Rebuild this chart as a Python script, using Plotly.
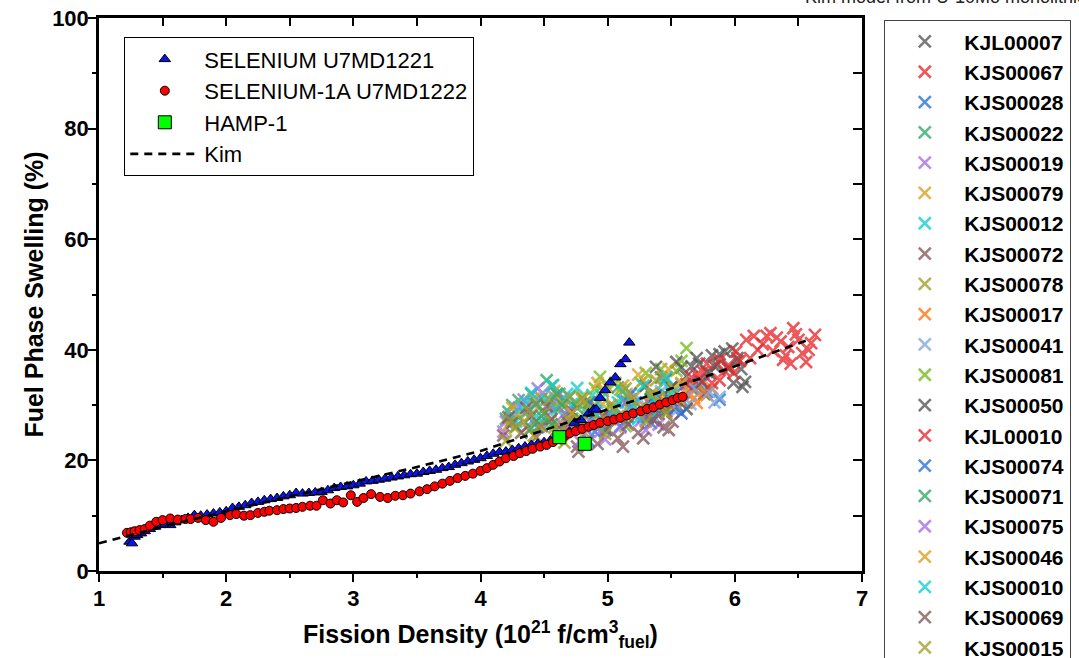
import plotly.graph_objects as go

# ---------------- data ----------------
sel_x = [1.24,1.26,1.28,1.30,1.33,1.36,1.40,1.44,1.48,1.52,1.56,1.60,1.65,1.70,1.75,1.80,1.85,1.90,1.95,2.00,
         2.05,2.10,2.15,2.20,2.25,2.30,2.35,2.40,2.45,2.50,2.55,2.60,2.65,2.70,2.75,2.80,2.85,2.90,2.95,3.00,
         3.05,3.10,3.15,3.20,3.25,3.30,3.35,3.40,3.45,3.50,3.55,3.60,3.65,3.70,3.75,3.80,3.85,3.90,3.95,4.00,
         4.05,4.10,4.15,4.20,4.25,4.30,4.35,4.40,4.45,4.50,4.55,4.60,4.65,4.70,4.74,4.79,4.85,4.89,4.91,4.94,
         4.98,5.02,5.06,5.10,5.14,5.17]
sel_y = [5.3,5.0,6.2,6.5,6.8,7.2,7.6,8.0,8.3,8.4,8.3,8.8,9.2,9.6,10.1,10.0,10.2,10.4,10.6,10.8,
         11.4,11.6,11.9,12.3,12.5,12.8,13.0,13.2,13.5,13.7,14.1,14.0,14.1,14.2,14.3,14.6,15.0,15.2,15.3,15.5,
         15.8,16.2,16.3,16.5,16.7,16.9,17.1,17.3,17.5,17.6,17.9,18.1,18.3,18.6,18.8,19.2,19.5,19.8,20.1,20.4,
         20.8,21.2,21.5,21.6,21.9,22.2,22.5,22.8,23.0,23.3,23.6,24.0,24.6,25.2,26.8,27.3,28.5,29.2,29.2,31.3,
         32.7,34.1,35.0,37.4,38.3,41.3]

sel1a_x = [1.22,1.25,1.28,1.32,1.36,1.40,1.45,1.50,1.56,1.62,1.68,1.72,1.78,1.84,1.90,1.96,2.03,2.08,2.14,
           2.19,2.25,2.30,2.34,2.40,2.45,2.50,2.55,2.60,2.66,2.71,2.76,2.82,2.87,2.92,2.98,3.03,3.08,3.14,3.21,
           3.27,3.33,3.39,3.45,3.52,3.58,3.64,3.70,3.76,3.82,3.88,3.94,4.00,4.05,4.10,4.15,4.20,4.26,4.31,4.36,
           4.41,4.47,4.52,4.57,4.62,4.66,4.70,4.75,4.80,4.85,4.89,4.94,5.00,5.05,5.10,5.15,5.20,5.26,5.31,5.36,
           5.41,5.46,5.51,5.55,5.59]
sel1a_y = [6.9,7.0,7.2,7.4,7.6,8.2,8.9,9.2,9.5,9.3,9.4,9.4,9.6,9.2,8.9,9.6,10.1,10.3,10.0,
           10.1,10.5,10.7,10.9,11.0,11.2,11.3,11.4,11.6,11.8,11.8,12.8,12.2,12.8,12.4,13.7,12.5,13.2,13.9,13.4,
           13.2,13.6,13.7,14.0,14.4,14.8,15.3,15.8,16.3,16.8,17.2,17.6,18.1,18.6,19.2,19.8,20.4,20.8,21.3,21.7,
           22.1,22.5,22.8,23.3,23.9,24.4,24.9,25.3,25.7,26.1,26.4,26.8,27.1,27.4,27.7,28.1,28.5,28.9,29.3,29.6,
           30.1,30.5,30.9,31.3,31.5]

hamp_x = [4.62, 4.82]
hamp_y = [24.2, 23.0]

kim_x = [1.0, 1.5, 2.0, 2.5, 3.0, 3.5, 4.0, 4.5, 5.0, 5.5, 6.0, 6.6]
kim_y = [5.0, 8.0, 10.8, 13.5, 16.1, 18.8, 21.7, 25.5, 29.2, 33.0, 37.0, 42.0]

kj_names = ["KJL00007", "KJS00067", "KJS00028", "KJS00022", "KJS00019", "KJS00079", "KJS00012",
            "KJS00072", "KJS00078", "KJS00017", "KJS00041", "KJS00081", "KJS00050", "KJL00010",
            "KJS00074", "KJS00071", "KJS00075", "KJS00046", "KJS00010", "KJS00069", "KJS00015"]

kj_x = [
    [5.35,5.42,5.50,5.58,5.65,5.72,5.80,5.88,5.95,6.02,6.08,5.55,5.76,5.45,5.68,5.84,5.98,6.05,5.38],
    [6.22,6.28,6.33,6.38,6.42,6.46,6.50,6.53,6.56,6.60,6.63,6.30,6.25,6.36,6.44,6.48,6.58,6.40],
    [4.45,4.62,4.78,4.90,5.02,5.15,5.28,5.40,5.52,5.66,5.78,5.88,4.55,4.70,4.85,5.10,5.35,5.60,5.75],
    [4.20,4.25,4.30,4.35,4.42,4.48,4.55,4.57,4.62,4.68,4.75,4.80,4.22,4.28,4.40,4.52,4.60,4.70],
    [4.18,4.24,4.30,4.36,4.42,4.49,4.52,4.58,4.64,4.70,4.76,4.20,4.34,4.45,4.55,4.66,4.74],
    [4.22,4.30,4.38,4.46,4.55,4.63,4.72,4.80,4.88,4.96,5.05,5.15,4.25,4.42,4.58,4.68,4.84,5.00,5.10],
    [4.28,4.33,4.36,4.44,4.52,4.60,4.68,4.76,4.84,4.92,4.98,4.24,4.40,4.48,4.56,4.72,4.88],
    [4.18,4.25,4.32,4.40,4.48,4.56,4.64,4.72,4.76,4.77,4.22,4.36,4.44,4.52,4.60,4.68],
    [4.20,4.27,4.34,4.42,4.50,4.58,4.66,4.74,4.82,4.90,4.98,4.24,4.38,4.46,4.54,4.62,4.70,4.86],
    [5.30,5.38,5.45,5.52,5.58,5.64,5.68,5.72,5.76,5.82,5.40,5.50,5.62,5.70,5.78],
    [5.18,5.26,5.34,5.42,5.50,5.58,5.65,5.72,5.80,5.88,5.22,5.38,5.55,5.68,5.84],
    [4.85,4.94,5.02,5.10,5.18,5.26,5.34,5.42,5.50,5.58,5.62,4.98,4.90,5.06,5.14,5.30,5.46,5.54,4.80],
    [5.30,5.38,5.46,5.54,5.62,5.70,5.78,5.86,5.92,5.99,6.06,5.62,5.34,5.50,5.66,5.74,5.82,5.95,6.02],
    [5.62,5.70,5.75,5.82,5.88,5.88,5.95,5.99,6.01,6.09,6.12,6.18,5.66,5.78,5.92,6.04,6.15,5.72],
    [4.82,4.90,4.98,5.06,5.14,5.22,5.30,5.38,5.46,5.54,4.86,5.02,5.18,5.34,5.50,5.58],
    [4.40,4.48,4.56,4.64,4.72,4.80,4.88,4.96,5.04,5.12,4.44,4.60,4.76,4.92,5.08,5.16],
    [4.62,4.70,4.78,4.86,4.94,5.02,5.10,5.18,5.26,5.34,4.66,4.82,4.98,5.14,5.30,5.40],
    [4.72,4.80,4.88,4.96,5.04,5.12,5.20,5.28,5.36,5.44,5.52,5.58,4.76,4.92,5.08,5.24,5.40,5.48,5.56],
    [4.88,4.96,5.04,5.12,5.20,5.28,5.36,5.44,5.50,4.92,5.08,5.24,5.40,5.46],
    [4.92,5.00,5.08,5.16,5.24,5.32,5.36,5.44,5.51,5.40,4.96,5.12,5.28,5.46,5.48],
    [4.62,4.70,4.78,4.86,4.94,5.02,5.10,5.18,5.26,5.34,5.42,4.66,4.82,4.98,5.14,5.30,5.38,5.46],
]
kj_y = [
    [31.5,35.0,33.2,36.8,34.0,37.5,35.8,39.2,36.5,38.0,34.2,29.8,32.0,30.5,33.0,37.0,40.2,36.5,28.5],
    [41.0,43.0,42.2,38.2,40.5,43.9,41.8,39.4,37.8,41.2,42.7,39.8,42.5,41.5,37.5,42.8,40.0,39.0],
    [26.0,24.8,27.5,25.2,28.0,30.6,27.8,31.5,29.2,33.0,32.4,31.0,27.2,29.0,23.5,26.2,30.0,30.5,34.0],
    [27.5,30.0,30.9,28.5,26.8,31.2,29.5,33.6,32.0,28.2,30.5,27.0,28.8,26.2,32.0,34.5,29.8,31.5],
    [25.2,27.8,29.5,26.0,30.2,32.2,28.0,31.5,26.5,29.0,27.2,27.0,31.0,33.0,30.0,31.2,25.8],
    [26.5,28.2,25.5,29.8,27.0,30.8,28.5,31.6,27.8,30.2,29.0,32.0,29.5,31.2,32.5,26.2,29.6,33.2,27.5],
    [27.0,29.5,30.4,28.0,31.0,29.2,32.0,33.1,28.5,30.5,26.2,28.2,32.2,27.2,33.5,30.2,31.8],
    [24.5,26.8,25.0,28.0,26.2,27.5,25.5,28.8,22.5,21.6,27.8,29.5,24.2,29.8,23.8,27.0],
    [23.5,25.8,27.0,24.5,28.5,26.0,29.8,27.2,25.0,30.0,28.0,27.2,29.0,26.2,31.0,24.8,31.5,28.8],
    [29.5,30.2,29.0,31.0,30.5,31.8,31.3,33.3,32.5,33.0,31.2,30.0,33.0,30.4,31.8],
    [28.5,30.8,29.5,32.5,31.0,33.8,30.2,34.5,32.4,31.5,31.8,27.5,29.2,33.0,30.5],
    [30.5,35.1,27.5,32.8,29.0,34.0,31.2,36.5,33.0,38.0,40.3,25.5,33.0,34.0,26.2,35.8,31.5,36.2,27.0],
    [33.5,36.9,34.8,37.8,35.2,38.5,36.0,37.2,39.7,34.0,33.3,29.3,31.0,33.2,37.0,34.2,39.0,36.8,38.5],
    [33.8,35.5,36.0,34.0,38.2,34.5,37.2,35.8,39.7,41.8,38.5,40.0,35.0,37.5,36.2,38.0,42.5,34.8],
    [26.0,28.5,25.5,29.5,27.2,30.5,28.0,31.8,29.5,32.2,30.5,27.8,32.0,26.8,30.8,28.5],
    [25.8,28.0,26.5,30.0,27.5,31.2,28.8,32.5,29.2,30.8,30.2,32.0,29.5,26.5,33.2,27.8],
    [24.0,26.2,23.5,27.0,25.2,28.2,26.0,29.5,27.2,30.0,28.5,25.8,23.8,30.5,25.5,26.5],
    [28.5,31.0,29.2,32.8,30.0,33.5,31.2,34.5,32.0,35.2,33.0,34.0,26.5,34.0,28.0,35.5,30.5,36.5,31.2],
    [29.0,31.5,28.2,32.5,30.0,33.5,31.0,34.0,32.0,26.5,30.5,27.5,29.0,35.0],
    [23.0,25.5,24.0,26.5,25.0,27.8,27.3,26.0,27.0,28.5,28.0,22.5,24.0,28.8,25.5],
    [25.0,27.2,26.0,28.8,27.0,30.0,28.2,31.0,29.5,32.0,30.2,23.2,30.5,24.8,33.0,27.0,34.5,28.5],
]

kj_palette = ["#555555", "#e8282c", "#2a6fd6", "#2fa865", "#a56fe0", "#dba020",
              "#12cdd4", "#86585a", "#a0a028", "#ff7410", "#7fa8dc", "#74bc20"]

# ---------------- figure ----------------
fig = go.Figure()

for i, name in enumerate(kj_names):
    col = kj_palette[i % len(kj_palette)]
    fig.add_trace(go.Scatter(
        x=kj_x[i], y=kj_y[i], mode="markers", name=name, legend="legend2",
        opacity=0.78,
        marker=dict(symbol="x-thin", size=12, color=col, line=dict(color=col, width=2.6)),
    ))

fig.add_trace(go.Scatter(
    x=sel_x, y=sel_y, mode="markers", name="SELENIUM U7MD1221", legend="legend",
    marker=dict(symbol="triangle-up", size=10, color="#0a14e6", line=dict(color="black", width=1)),
))
fig.add_trace(go.Scatter(
    x=sel1a_x, y=sel1a_y, mode="markers", name="SELENIUM-1A U7MD1222", legend="legend",
    marker=dict(symbol="circle", size=9, color="#ff0000", line=dict(color="black", width=1)),
))
fig.add_trace(go.Scatter(
    x=hamp_x, y=hamp_y, mode="markers", name="HAMP-1", legend="legend",
    marker=dict(symbol="square", size=13, color="#00ff00", line=dict(color="black", width=1)),
))
fig.add_trace(go.Scatter(
    x=kim_x, y=kim_y, mode="lines", name="Kim", legend="legend",
    line=dict(color="black", width=2.6, dash="8px,6px"),
))
# empty trace to anchor mirrored (inside-tick) axes
fig.add_trace(go.Scatter(x=[None], y=[None], xaxis="x2", yaxis="y2", showlegend=False,
                         hoverinfo="skip", mode="markers"))

FONT = "Liberation Sans, Arial, sans-serif"

fig.update_layout(
    width=1079, height=658,
    margin=dict(l=99, r=217, t=18, b=87, autoexpand=False),
    paper_bgcolor="white", plot_bgcolor="white",
    font=dict(family=FONT, color="black"),
    showlegend=True,
    xaxis=dict(
        range=[1, 7], dtick=1, tick0=1, automargin=False,
        showline=True, linecolor="black", linewidth=2.5, mirror=True,
        ticks="outside", ticklen=8, tickwidth=2, tickcolor="black",
        minor=dict(ticks="outside", ticklen=4, tickwidth=2, dtick=0.5, tickcolor="black"),
        showgrid=False, zeroline=False, ticklabelstandoff=-2,
        tickfont=dict(size=22, family=FONT, weight="bold"),
        title=dict(text="Fission Density (10<sup>21</sup> f/cm<sup>3</sup><sub>fuel</sub>)",
                   font=dict(size=25, family=FONT, weight="bold"), standoff=16),
    ),
    yaxis=dict(
        range=[0, 100], dtick=20, automargin=False,
        showline=True, linecolor="black", linewidth=2.5, mirror=True,
        ticks="outside", ticklen=8, tickwidth=2, tickcolor="black",
        minor=dict(ticks="outside", ticklen=4, tickwidth=2, dtick=10, tickcolor="black"),
        showgrid=False, zeroline=False, ticklabelstandoff=-5,
        tickfont=dict(size=22, family=FONT, weight="bold"),
        title=dict(text="Fuel Phase Swelling (%)",
                   font=dict(size=25, family=FONT, weight="bold"), standoff=2),
    ),
    xaxis2=dict(
        overlaying="x", side="top", anchor="y2", range=[1, 7], dtick=0.5, tick0=1,
        ticks="inside", ticklen=8, tickwidth=2, tickcolor="black", automargin=False,
        showticklabels=False, showgrid=False, zeroline=False, showline=False,
    ),
    yaxis2=dict(
        overlaying="y", side="right", anchor="x2", range=[0, 100], dtick=10,
        ticks="inside", ticklen=9, tickwidth=2, tickcolor="black", automargin=False,
        showticklabels=False, showgrid=False, zeroline=False, showline=False,
    ),
    legend=dict(
        x=(124 - 99) / 763, y=(571 - 37) / 553, xanchor="left", yanchor="top",
        bgcolor="white", bordercolor="black", borderwidth=1.3,
        font=dict(size=22, family=FONT, color="black"),
        itemwidth=69, tracegroupgap=0, maxheight=400,
    ),
    legend2=dict(
        x=(884 - 99) / 763, y=(571 - 20) / 553, xanchor="left", yanchor="top",
        bgcolor="white", bordercolor="#444444", borderwidth=1.3,
        font=dict(size=21, family=FONT, color="black", weight="bold"),
        itemwidth=69, tracegroupgap=0, maxheight=1000,
    ),
    annotations=[dict(
        text="Kim model from U-10Mo monolithic fuel", xref="paper", yref="paper",
        x=(803 - 99) / 763, y=(571 - 9) / 553, xanchor="left", yanchor="bottom",
        showarrow=False, font=dict(size=18, family=FONT, color="#222222"),
    )],
)

fig.write_html(
    "out.html",
    config={"displayModeBar": False},
    post_script="document.body.style.margin='0';document.body.style.padding='0';"
                "document.body.style.overflow='hidden';",
)
